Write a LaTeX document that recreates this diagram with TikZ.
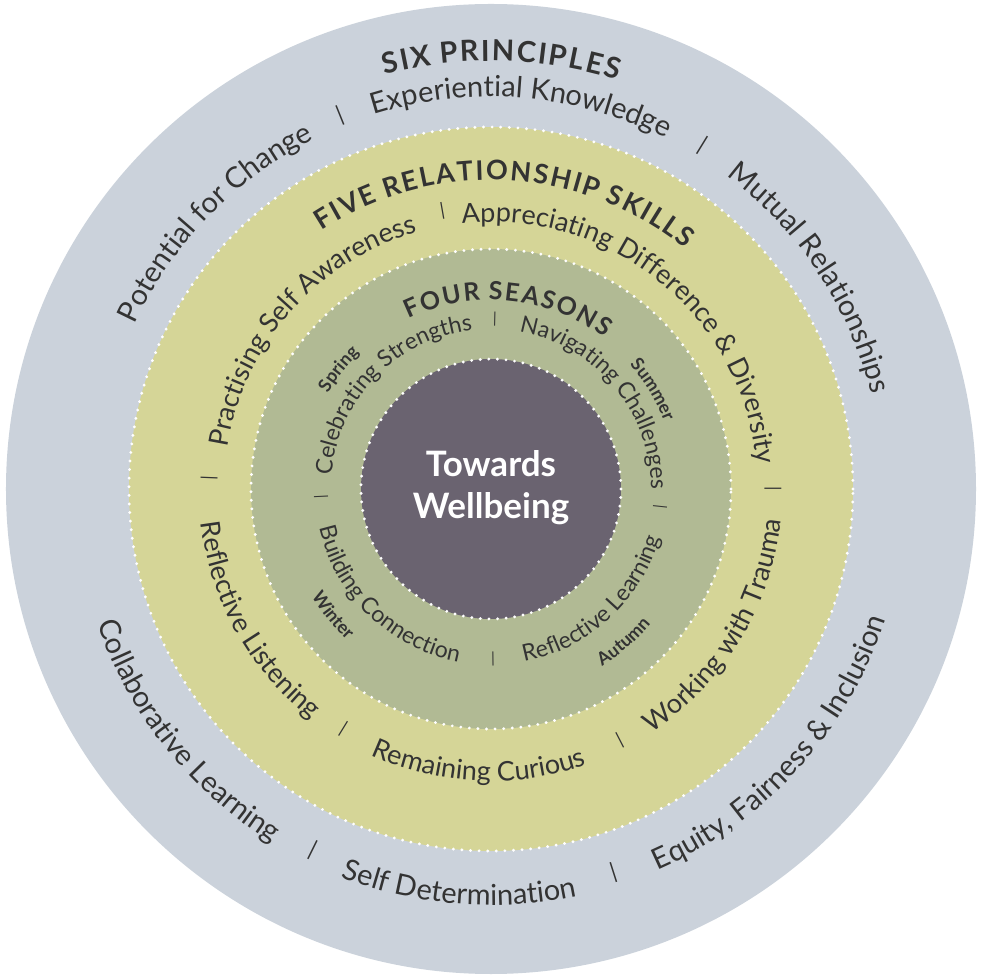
\documentclass[tikz,border=0pt]{standalone}
\usepackage{fontspec}
\setmainfont{Lato}
\usetikzlibrary{decorations.text}

\definecolor{ink}{HTML}{333333}
\definecolor{principles}{HTML}{CBD2DB}
\definecolor{skills}{HTML}{D5D597}
\definecolor{seasons}{HTML}{B1BA94}
\definecolor{core}{HTML}{6A6370}

\newcommand{\outerfont}{\fontsize{29}{34}\selectfont\color{ink}}
\newcommand{\midfont}{\fontsize{27}{32}\selectfont\color{ink}}
\newcommand{\innerfont}{\fontsize{23}{27}\selectfont\color{ink}}
\newcommand{\seasonfont}{\bfseries\fontsize{18}{21}\selectfont\color{ink}}
\newcommand{\headfont}[1]{\bfseries\fontsize{#1}{#1}\selectfont\color{ink}}

\newcommand{\cwtext}[4]{\path[decorate, decoration={text along path, text align=center, text={|#3|#4}}] (#1+80:#2) arc[start angle=#1+80, end angle=#1-80, radius=#2];}
\newcommand{\ccwtext}[4]{\path[decorate, decoration={text along path, text align=center, text={|#3|#4}}] (#1-80:#2) arc[start angle=#1-80, end angle=#1+80, radius=#2];}

\tikzset{
  dots/.style={white, line width=3.2pt, line cap=round, dash pattern=on 0pt off 8.6pt},
  bar/.style={text=ink, inner sep=0pt, font=\fontsize{#1}{#1}\selectfont},
}

\begin{document}
\begin{tikzpicture}[x=1pt, y=1pt]
\useasboundingbox (-491,-487) rectangle (491,489);
\fill[white] (-491,-487) rectangle (491,489);

\fill[principles] (0,0) circle[radius=485];
\fill[skills] (0,0) circle[radius=362];
\fill[seasons] (0,0) circle[radius=240];
\fill[core] (0,0) circle[radius=130];
\draw[dots] (0,0) circle[radius=362];
\draw[dots] (0,0) circle[radius=240];
\draw[dots] (0,0) circle[radius=130];

\node[font=\bfseries\fontsize{35}{42}\selectfont, text=white, align=center] (wellbeing) at (0,1) {Towards\\Wellbeing};

\cwtext{88.6}{428}{\headfont{29}}{{S\kern2pt}{I\kern2pt}{X\kern2pt} {P\kern2pt}{R\kern2pt}{I\kern2pt}{N\kern2pt}{C\kern2pt}{I\kern2pt}{P\kern2pt}{L\kern2pt}{E\kern2pt}S}
\cwtext{85.4}{392}{\outerfont}{Experiential Knowledge}
\cwtext{33.5}{392}{\outerfont}{Mutual Relationships}
\cwtext{136}{392}{\outerfont}{Potential for Change}
\ccwtext{-42.3}{416}{\outerfont}{Equity, Fairness {\&} Inclusion}
\ccwtext{265.4}{416}{\outerfont}{Self Determination}
\ccwtext{218.6}{416}{\outerfont}{Collaborative Learning}
\foreach \a/\n in {112/p1, 58.4/p2, 287.7/p3, 243.7/p4}
  \node[bar=22, rotate=\a-90] (\n) at (\a:403) {|};

\cwtext{87.1}{309}{\headfont{27}}{{F\kern2pt}{I\kern2pt}{V\kern2pt}{E\kern2pt} {R\kern2pt}{E\kern2pt}{L\kern2pt}{A\kern2pt}{T\kern2pt}{I\kern2pt}{O\kern2pt}{N\kern2pt}{S\kern2pt}{H\kern2pt}{I\kern2pt}{P\kern2pt} {S\kern2pt}{K\kern2pt}{I\kern2pt}{L\kern2pt}{L\kern2pt}S}
\cwtext{138.5}{267}{\midfont}{Practising Self Awareness}
\cwtext{50.7}{267}{\midfont}{Appreciating Difference {\&} Diversity}
\ccwtext{-31.4}{292}{\midfont}{Working with Trauma}
\ccwtext{267.4}{292}{\midfont}{Remaining Curious}
\ccwtext{209.4}{292}{\midfont}{Reflective Listening}
\foreach \a/\n in {99.9/k1, 0/k2, 297.2/k3, 238.4/k4, 177.8/k5}
  \node[bar=18, rotate=\a-90] (\n) at (\a:282) {|};

\cwtext{84.5}{189}{\headfont{25}}{{F\kern2pt}{O\kern2pt}{U\kern2pt}{R\kern2pt} {S\kern2pt}{E\kern2pt}{A\kern2pt}{S\kern2pt}{O\kern2pt}{N\kern2pt}S}
\cwtext{135.8}{160}{\innerfont}{Celebrating Strengths}
\cwtext{39.8}{160}{\innerfont}{Navigating Challenges}
\ccwtext{-47.6}{176}{\innerfont}{Reflective Learning}
\ccwtext{226}{176}{\innerfont}{Building Connection}
\foreach \a/\n in {88.7/s1, 353.9/s2, 270.7/s3, 182.7/s4}
  \node[bar=15, rotate=\a-90] (\n) at (\a:170) {|};

\cwtext{141.8}{189}{\seasonfont}{Spring}
\cwtext{31.6}{186}{\seasonfont}{Summer}
\ccwtext{-49}{209}{\seasonfont}{Autumn}
\ccwtext{218.7}{209}{\seasonfont}{Winter}
\end{tikzpicture}
\end{document}
